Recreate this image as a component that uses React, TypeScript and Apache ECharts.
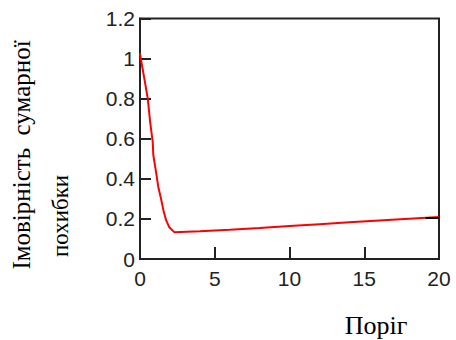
import React, { useEffect, useRef } from "react";
import * as echarts from "echarts";

const thresholds = [0, 0.07, 0.29, 0.52, 0.69, 0.85, 0.89, 1.07, 1.22, 1.4, 1.56, 1.74, 1.96, 2.29, 4, 6, 8, 10, 12, 14, 16, 18, 20];
const errorProb = [1.026, 0.993, 0.9, 0.8, 0.677, 0.585, 0.519, 0.436, 0.361, 0.303, 0.245, 0.195, 0.158, 0.134, 0.138, 0.146, 0.155, 0.165, 0.174, 0.183, 0.192, 0.201, 0.21];
const xTicks = [0, 5, 10, 15, 20];
const yTicks = [0, 0.2, 0.4, 0.6, 0.8, 1, 1.2];
const yTitleLine1 = "Імовірність  сумарної";
const yTitleLine2 = "похибки";
const xTitle = "Поріг";

export default function App() {
  const ref = useRef<HTMLDivElement>(null);
  useEffect(() => {
    if (!ref.current) return;
    const chart = echarts.init(ref.current, undefined, { renderer: "svg" });
    const axisColor = "#222";
    chart.setOption({
      animation: false,
      grid: {
        left: 140,
        right: 17,
        top: 18.5,
        bottom: 81,
        show: true,
        borderColor: axisColor,
        borderWidth: 2,
      },
      xAxis: {
        type: "value",
        min: xTicks[0],
        max: xTicks[xTicks.length - 1],
        interval: 5,
        axisLine: { show: true, lineStyle: { color: axisColor, width: 2 } },
        axisTick: { show: true, inside: true, length: 12, lineStyle: { color: axisColor, width: 2 } },
        splitLine: { show: false },
        axisLabel: {
          color: "#222",
          fontFamily: "Liberation Sans",
          fontSize: 21,
          margin: 9,
          formatter: (v: number) => String(v),
        },
      },
      yAxis: {
        type: "value",
        min: yTicks[0],
        max: yTicks[yTicks.length - 1],
        interval: 0.2,
        axisLine: { show: true, lineStyle: { color: axisColor, width: 2 } },
        axisTick: { show: true, inside: true, length: 11, lineStyle: { color: axisColor, width: 2 } },
        splitLine: { show: false },
        axisLabel: {
          color: "#222",
          fontFamily: "Liberation Sans",
          fontSize: 21,
          margin: 5,
          formatter: (v: number) => String(Math.round(v * 10) / 10),
        },
      },
      series: [
        {
          type: "line",
          data: thresholds.map((x, i) => [x, errorProb[i]]),
          showSymbol: false,
          lineStyle: { color: "#ff0000", width: 2 },
          markLine: {
            silent: true,
            symbol: ["none", "none"],
            label: { show: false },
            lineStyle: { color: "#000", width: 2, type: "solid" },
            data: [[{ coord: [19.1, 0.205] }, { coord: [20, 0.205] }]],
          },
        },
      ],
      graphic: [
        {
          type: "text",
          x: 21.5,
          y: 155,
          rotation: Math.PI / 2,
          style: {
            text: yTitleLine1,
            font: "25px 'Liberation Serif'",
            fill: "#000",
            align: "center",
            verticalAlign: "middle",
          },
        },
        {
          type: "text",
          x: 60.5,
          y: 216,
          rotation: Math.PI / 2,
          style: {
            text: yTitleLine2,
            font: "23px 'Liberation Serif'",
            fill: "#000",
            align: "center",
            verticalAlign: "middle",
          },
        },
        {
          type: "text",
          x: 376,
          y: 325,
          style: {
            text: xTitle,
            font: "26px 'Liberation Serif'",
            fill: "#000",
            align: "center",
            verticalAlign: "middle",
          },
        },
      ],
    });
    return () => chart.dispose();
  }, []);
  return <div ref={ref} style={{ width: 456, height: 340, position: "absolute", left: 0, top: 0 }} />;
}
